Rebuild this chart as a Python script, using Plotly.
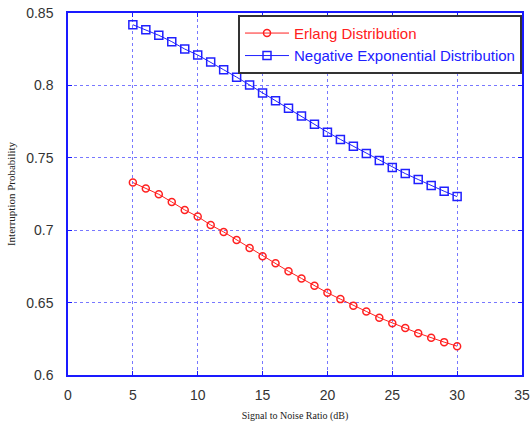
import plotly.graph_objects as go

snr = list(range(5, 31))
erlang = [0.7329, 0.7288, 0.7248, 0.7195, 0.7140, 0.7094, 0.7036, 0.6988, 0.6933, 0.6877,
          0.6820, 0.6771, 0.6716, 0.6667, 0.6617, 0.6568, 0.6524, 0.6479, 0.6439, 0.6396,
          0.6358, 0.6324, 0.6289, 0.6257, 0.6227, 0.6199]
negexp = [0.8419, 0.8385, 0.8346, 0.8302, 0.8251, 0.8210, 0.8161, 0.8108, 0.8057, 0.8002,
          0.7947, 0.7894, 0.7843, 0.7788, 0.7732, 0.7677, 0.7627, 0.7580, 0.7530, 0.7481,
          0.7433, 0.7391, 0.7350, 0.7308, 0.7269, 0.7232]
xticks = [0, 5, 10, 15, 20, 25, 30, 35]
yticks = [0.6, 0.65, 0.7, 0.75, 0.8, 0.85]

fig = go.Figure()
fig.add_trace(go.Scatter(
    x=snr, y=erlang, mode="lines+markers",
    name='<span style="color:#ff2020">Erlang Distribution</span>',
    line=dict(color="#ff2020", width=1),
    marker=dict(symbol="circle-open", size=7, color="#ff2020", line=dict(width=1.5)),
))
fig.add_trace(go.Scatter(
    x=snr, y=negexp, mode="lines+markers",
    name='<span style="color:#2020ff">Negative Exponential Distribution</span>',
    line=dict(color="#2020ff", width=1),
    marker=dict(symbol="square-open", size=8, color="#2020ff", line=dict(width=1.5)),
))

axis_common = dict(
    showline=True, linecolor="#1a1aff", linewidth=1.5, mirror="ticks",
    ticks="inside", ticklen=4, tickcolor="#1a1aff",
    showgrid=True, gridcolor="#7878ff", griddash="dot", gridwidth=1,
    zeroline=False, ticklabeloverflow="allow", automargin=False,
    tickfont=dict(family="Liberation Sans, Arial", size=14, color="#333333"),
)

fig.update_layout(
    width=532, height=423,
    margin=dict(l=68, r=10, t=13, b=48),
    paper_bgcolor="white", plot_bgcolor="white",
    showlegend=True,
    legend=dict(
        x=1.0, y=0.995, xanchor="right", yanchor="top",
        bgcolor="white", bordercolor="#333333", borderwidth=2,
        font=dict(family="Liberation Sans, Arial", size=15),
        tracegroupgap=0, itemwidth=44,
    ),
    xaxis=dict(
        range=[0, 35], tickvals=xticks, ticktext=[str(v) for v in xticks],
        ticklabelstandoff=6,
        title=dict(text="Signal to Noise Ratio (dB)", standoff=10,
                   font=dict(family="Liberation Serif, Times New Roman", size=10, color="#222222")),
        **axis_common,
    ),
    yaxis=dict(
        range=[0.6, 0.85], tickvals=yticks, ticktext=[f"{v:g}" for v in yticks],
        ticklabelstandoff=10,
        title=dict(text="Interruption Probability", standoff=8,
                   font=dict(family="Liberation Serif, Times New Roman", size=11, color="#222222")),
        **axis_common,
    ),
)

fig.write_html("out.html")
